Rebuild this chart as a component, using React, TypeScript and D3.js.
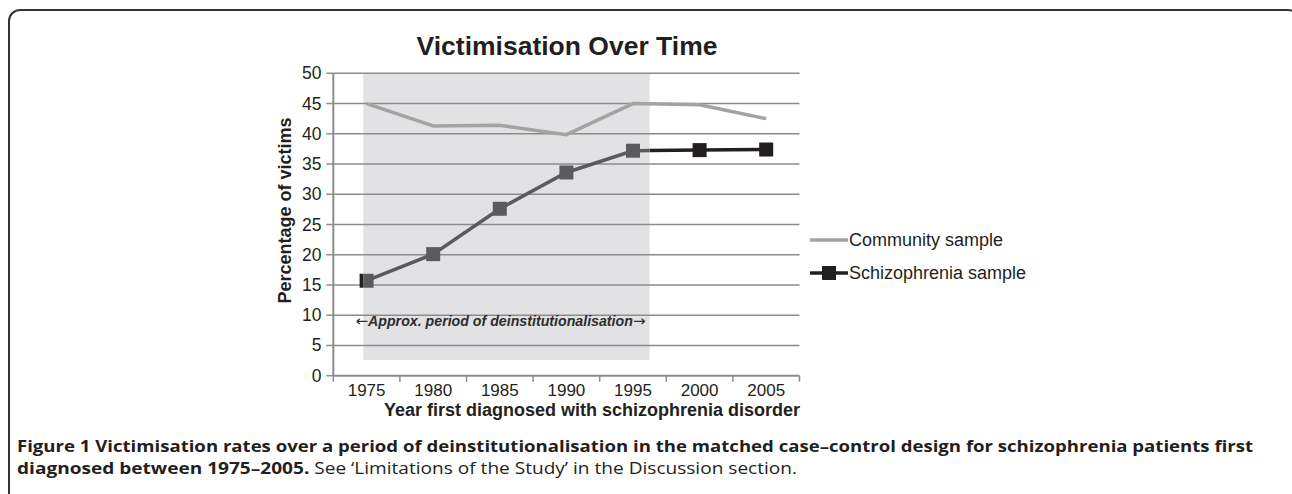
import * as d3 from "d3";

// chart data
const years = ["1975", "1980", "1985", "1990", "1995", "2000", "2005"];
const community = [45, 41.3, 41.4, 39.85, 45, 44.8, 42.5];
const schizophrenia = [15.7, 20.1, 27.6, 33.6, 37.2, 37.3, 37.4];
const yTicks = [0, 5, 10, 15, 20, 25, 30, 35, 40, 45, 50];
// shaded period (in years) and its value range
const periodYears = [1974.75, 1996.25];
const periodValues = [2.6, 50];
const seriesNames = ["Community sample", "Schizophrenia sample"];

const W = 1292;
const H = 494;
const PLOT = { left: 333.3, right: 799.5, top: 73.3, bottom: 375.7 };
const FONT = "'Liberation Sans', Arial, sans-serif";
const CAPTION_FONT = "'Open Sans', 'Noto Sans', sans-serif";

const COMMUNITY_COLOR = "#a3a3a3";
const SCHIZ_COLOR = "#231f20";
const SCHIZ_SHADED = "#5b5b5d";
const SHADE = "#e2e2e4";
const GRID = "#8c8c8c";
const INK = "#231f20";

type Pt = { year: string; v: number };

export default function App() {
  const x = d3.scaleBand<string>().domain(years).range([PLOT.left, PLOT.right]).padding(0);
  const bw = x.bandwidth();
  const cx = (y: string) => (x(y) ?? 0) + bw / 2;
  const xYear = d3
    .scaleLinear()
    .domain([+years[0], +years[years.length - 1]])
    .range([cx(years[0]), cx(years[years.length - 1])]);
  const y = d3.scaleLinear().domain([0, 50]).range([PLOT.bottom, PLOT.top]);

  const line = d3
    .line<Pt>()
    .x((d) => cx(d.year))
    .y((d) => y(d.v));
  const commPts = years.map((yr, i) => ({ year: yr, v: community[i] }));
  const schPts = years.map((yr, i) => ({ year: yr, v: schizophrenia[i] }));

  const sx0 = xYear(periodYears[0]);
  const sx1 = xYear(periodYears[1]);
  const sy0 = y(periodValues[1]);
  const sy1 = y(periodValues[0]);
  const mk = 14;

  const schizLayer = (color: string) => (
    <g>
      <path d={line(schPts) || ""} fill="none" stroke={color} strokeWidth={3.5} />
      {schPts.map((d) => (
        <rect key={d.year} x={cx(d.year) - mk / 2} y={y(d.v) - mk / 2} width={mk} height={mk} fill={color} />
      ))}
    </g>
  );

  const edges = years.map((yr) => x(yr) ?? 0).concat([PLOT.right]);

  return (
    <svg width={W} height={H} style={{ position: "absolute", left: 0, top: 0, background: "#fff" }}>
      <defs>
        <clipPath id="inShade">
          <rect x={sx0} y={0} width={sx1 - sx0} height={H} />
        </clipPath>
        <clipPath id="outShade">
          <path d={`M0,0H${sx0}V${H}H0Z M${sx1},0H${W}V${H}H${sx1}Z`} />
        </clipPath>
      </defs>

      {/* frame */}
      <rect x={9} y={10} width={1290} height={600} rx={11} fill="none" stroke="#333" strokeWidth={2} />

      {/* title */}
      <text x={567} y={54.5} textAnchor="middle" fontFamily={FONT} fontWeight="bold" fontSize={26.5} fill={INK}>
        Victimisation Over Time
      </text>

      {/* shaded period */}
      <rect x={sx0} y={sy0} width={sx1 - sx0} height={sy1 - sy0} fill={SHADE} />

      {/* gridlines */}
      {yTicks.slice(1).map((t) => (
        <line key={t} x1={PLOT.left} x2={PLOT.right} y1={y(t)} y2={y(t)} stroke={GRID} strokeWidth={1.5} />
      ))}

      {/* y axis */}
      <line x1={PLOT.left} x2={PLOT.left} y1={PLOT.top} y2={PLOT.bottom} stroke={GRID} strokeWidth={2} />
      {yTicks.map((t) => (
        <g key={t}>
          <line x1={PLOT.left - 7} x2={PLOT.left} y1={y(t)} y2={y(t)} stroke={GRID} strokeWidth={1.5} />
          <text x={321.5} y={y(t) + 6} textAnchor="end" fontFamily={FONT} fontSize={17.5} fill={INK}>
            {t}
          </text>
        </g>
      ))}

      {/* x axis */}
      <line x1={PLOT.left} x2={PLOT.right} y1={PLOT.bottom} y2={PLOT.bottom} stroke={GRID} strokeWidth={2} />
      {edges.map((e, i) => (
        <line key={i} x1={e} x2={e} y1={PLOT.bottom} y2={PLOT.bottom + 6} stroke={GRID} strokeWidth={1.5} />
      ))}
      {years.map((yr) => (
        <text key={yr} x={cx(yr)} y={396} textAnchor="middle" fontFamily={FONT} fontSize={17} fill={INK}>
          {yr}
        </text>
      ))}

      {/* axis titles */}
      <text x={592} y={416} textAnchor="middle" fontFamily={FONT} fontWeight="bold" fontSize={18} fill={INK}>
        Year first diagnosed with schizophrenia disorder
      </text>
      <text
        transform={`translate(291,210.5) rotate(-90)`}
        textAnchor="middle"
        fontFamily={FONT}
        fontWeight="bold"
        fontSize={18}
        fill={INK}
      >
        Percentage of victims
      </text>

      {/* series */}
      <path d={line(commPts) || ""} fill="none" stroke={COMMUNITY_COLOR} strokeWidth={3.5} strokeLinejoin="round" />
      <g clipPath="url(#outShade)">{schizLayer(SCHIZ_COLOR)}</g>
      <g clipPath="url(#inShade)">{schizLayer(SCHIZ_SHADED)}</g>

      {/* annotation */}
      <text x={(sx0 + sx1) / 2 - 6} y={326} textAnchor="middle" fontFamily={FONT} fontWeight="bold" fontStyle="italic" fontSize={14.2} fill="#2e2e2e">
        <tspan fontFamily="'DejaVu Sans', sans-serif" fontStyle="normal" fontWeight="normal" fontSize={15}>{"\u2190"}</tspan>
        <tspan>Approx. period of deinstitutionalisation</tspan>
        <tspan fontFamily="'DejaVu Sans', sans-serif" fontStyle="normal" fontWeight="normal" fontSize={15}>{"\u2192"}</tspan>
      </text>

      {/* legend */}
      <line x1={810} x2={848} y1={240} y2={240} stroke={COMMUNITY_COLOR} strokeWidth={3.5} />
      <text x={849} y={246} fontFamily={FONT} fontSize={18} fill={INK}>
        {seriesNames[0]}
      </text>
      <line x1={810} x2={848} y1={273} y2={273} stroke={SCHIZ_COLOR} strokeWidth={3.5} />
      <rect x={829 - mk / 2} y={273 - mk / 2} width={mk} height={mk} fill={SCHIZ_COLOR} />
      <text x={849} y={279} fontFamily={FONT} fontSize={18} fill={INK}>
        {seriesNames[1]}
      </text>

      {/* caption */}
      <text x={17} y={451.5} fontFamily={CAPTION_FONT} fontSize={16.5} fill={INK} textLength={1236} lengthAdjust="spacingAndGlyphs">
        <tspan fontWeight="bold">Figure 1</tspan>
        <tspan fontWeight="bold"> Victimisation rates over a period of deinstitutionalisation in the matched case–control design for schizophrenia patients first</tspan>
      </text>
      <text x={17} y={473.5} fontFamily={CAPTION_FONT} fontSize={16.5} fill={INK} textLength={780} lengthAdjust="spacingAndGlyphs">
        <tspan fontWeight="bold">diagnosed between 1975–2005.</tspan>
        <tspan fontWeight="normal"> See ‘Limitations of the Study’ in the Discussion section.</tspan>
      </text>
    </svg>
  );
}
